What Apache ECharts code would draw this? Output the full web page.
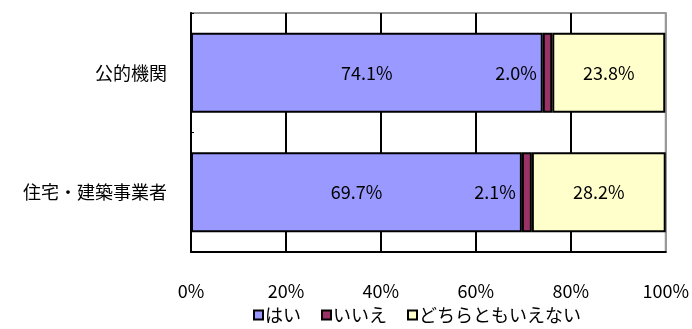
<!DOCTYPE html>
<html>
<head>
<meta charset="utf-8">
<script src="https://cdn.jsdelivr.net/npm/echarts@6/dist/echarts.min.js"></script>
<style>
  html, body { margin: 0; padding: 0; background: #fff; }
  #chart { width: 692px; height: 329px; }
</style>
</head>
<body>
<div id="chart"></div>
<script>
// Survey respondents (categories, top to bottom)
const categories = ['公的機関', '住宅・建築事業者'];
// Share of answers, percent
const yesValues = [74.1, 69.7];
const noValues = [2.0, 2.1];
const neitherValues = [23.8, 28.2];
const seriesNames = ['はい', 'いいえ', 'どちらともいえない'];
const xTicks = [0, 20, 40, 60, 80, 100];

const FONT = '"Noto Sans CJK JP", "Noto Sans", sans-serif';
const FS = 18;
const chart = echarts.init(document.getElementById('chart'));

const pctLabel = p => p.value.toFixed(1) + '%';
const barBase = {
  type: 'bar',
  stack: 'total',
  barWidth: 80,
  emphasis: { disabled: true }
};
const labelBase = { show: true, formatter: pctLabel, fontSize: FS, color: '#000', fontFamily: FONT };

chart.setOption({
  animation: false,
  textStyle: { fontFamily: FONT },
  grid: {
    left: 191, right: 25, top: 13, bottom: 77,
    show: true, borderColor: '#999', borderWidth: 2, backgroundColor: 'transparent'
  },
  legend: {
    data: seriesNames,
    top: 301,
    left: 248,
    icon: 'rect',
    itemWidth: 9,
    itemHeight: 9,
    itemGap: 20,
    textStyle: { fontSize: FS, color: '#000', fontFamily: FONT, padding: [0, 0, 0, -3] }
  },
  xAxis: {
    type: 'value',
    min: xTicks[0],
    max: xTicks[xTicks.length - 1],
    interval: 20,
    axisLine: { show: true, lineStyle: { color: '#000', width: 2 } },
    axisTick: { show: false },
    axisLabel: {
      formatter: '{value}%', margin: 30, fontSize: FS, color: '#000', fontFamily: FONT
    },
    splitLine: {
      show: true,
      lineStyle: { color: ['#000', '#000', '#000', '#000', '#000', '#999'], width: 2 }
    }
  },
  yAxis: {
    type: 'category',
    data: categories,
    inverse: true,
    axisLine: { show: true, lineStyle: { color: '#000', width: 2 } },
    axisTick: { show: true, inside: true, length: 3, lineStyle: { color: '#000' } },
    axisLabel: { margin: 24, fontSize: FS, color: '#000', fontFamily: FONT },
    splitLine: { show: false }
  },
  series: [
    Object.assign({}, barBase, {
      name: seriesNames[0], data: yesValues,
      itemStyle: { color: '#9999FF', borderColor: '#000', borderWidth: 2 },
      label: Object.assign({ position: 'inside' }, labelBase)
    }),
    Object.assign({}, barBase, {
      name: seriesNames[1], data: noValues,
      itemStyle: { color: '#993366', borderColor: '#000', borderWidth: 2 },
      label: Object.assign({ position: 'left', distance: 6 }, labelBase)
    }),
    Object.assign({}, barBase, {
      name: seriesNames[2], data: neitherValues,
      itemStyle: { color: '#FFFFCC', borderColor: '#000', borderWidth: 2 },
      label: Object.assign({ position: 'inside' }, labelBase)
    })
  ]
});
</script>
</body>
</html>
